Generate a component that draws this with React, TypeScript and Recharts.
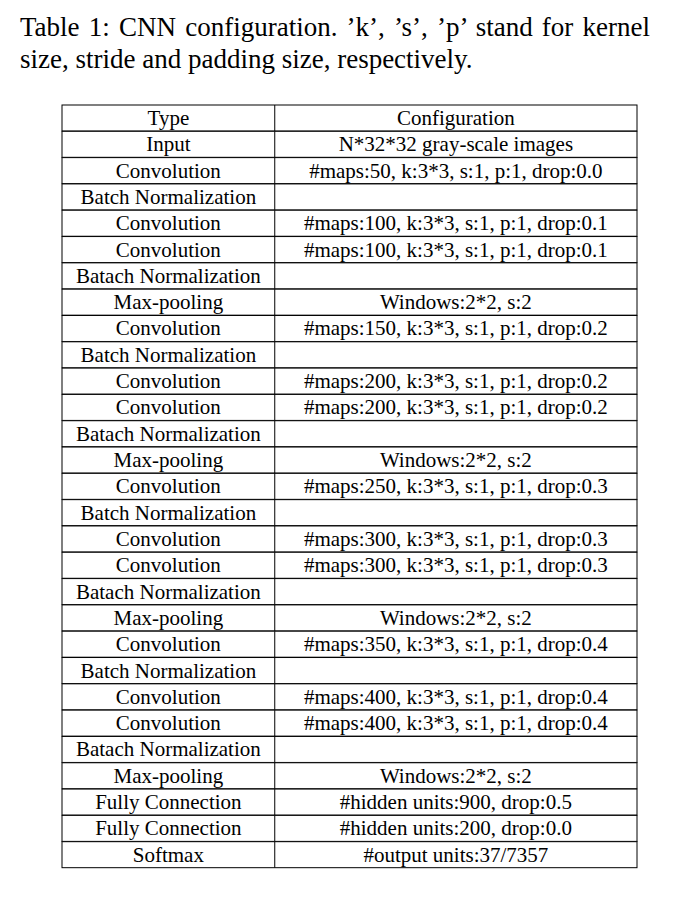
import { BarChart, Bar, XAxis, YAxis } from 'recharts';

const CAPTION_LINES = [
  "Table 1: CNN configuration. \u2019k\u2019, \u2019s\u2019, \u2019p\u2019 stand for kernel",
  'size, stride and padding size, respectively.',
];

const LAYER_TYPES = [
  'Type', 'Input', 'Convolution', 'Batch Normalization', 'Convolution', 'Convolution',
  'Batach Normalization', 'Max-pooling', 'Convolution', 'Batch Normalization', 'Convolution',
  'Convolution', 'Batach Normalization', 'Max-pooling', 'Convolution', 'Batch Normalization',
  'Convolution', 'Convolution', 'Batach Normalization', 'Max-pooling', 'Convolution',
  'Batch Normalization', 'Convolution', 'Convolution', 'Batach Normalization', 'Max-pooling',
  'Fully Connection', 'Fully Connection', 'Softmax',
];

const CONFIGS = [
  'Configuration', 'N*32*32 gray-scale images',
  '#maps:50, k:3*3, s:1, p:1, drop:0.0', '',
  '#maps:100, k:3*3, s:1, p:1, drop:0.1', '#maps:100, k:3*3, s:1, p:1, drop:0.1', '',
  'Windows:2*2, s:2',
  '#maps:150, k:3*3, s:1, p:1, drop:0.2', '',
  '#maps:200, k:3*3, s:1, p:1, drop:0.2', '#maps:200, k:3*3, s:1, p:1, drop:0.2', '',
  'Windows:2*2, s:2',
  '#maps:250, k:3*3, s:1, p:1, drop:0.3', '',
  '#maps:300, k:3*3, s:1, p:1, drop:0.3', '#maps:300, k:3*3, s:1, p:1, drop:0.3', '',
  'Windows:2*2, s:2',
  '#maps:350, k:3*3, s:1, p:1, drop:0.4', '',
  '#maps:400, k:3*3, s:1, p:1, drop:0.4', '#maps:400, k:3*3, s:1, p:1, drop:0.4', '',
  'Windows:2*2, s:2',
  '#hidden units:900, drop:0.5', '#hidden units:200, drop:0.0', '#output units:37/7357',
];

const DIVIDER = 0.37;
const FONT = '"Liberation Serif", "DejaVu Serif", serif';

const rows = LAYER_TYPES.map((type, i) => ({ id: String(i), type, config: CONFIGS[i], full: 1 }));

function RowShape(props: any) {
  const { x, y, width, height, payload } = props;
  const split = x + width * DIVIDER;
  const mid = y + height / 2;
  return (
    <g>
      <rect x={x} y={y} width={width} height={height} fill="#fff" stroke="#000" strokeWidth={1} />
      <line x1={split} y1={y} x2={split} y2={y + height} stroke="#000" strokeWidth={1} />
      <text x={(x + split) / 2} y={mid} textAnchor="middle" dominantBaseline="central"
        fontFamily={FONT} fontSize={21} fill="#000">{payload.type}</text>
      <text x={(split + x + width) / 2} y={mid} textAnchor="middle" dominantBaseline="central"
        fontFamily={FONT} fontSize={21} fill="#000">{payload.config}</text>
    </g>
  );
}

export default function App() {
  return (
    <div style={{ position: 'relative', width: 680, height: 912, margin: -8, background: '#fff' }}>
      <div style={{ position: 'absolute', left: 20, top: 11, width: 630, fontFamily: FONT, fontSize: 27, lineHeight: '32px', color: '#000' }}>
        <div style={{ textAlign: 'justify', textAlignLast: 'justify' }}>{CAPTION_LINES[0]}</div>
        <div>{CAPTION_LINES[1]}</div>
      </div>
      <BarChart width={680} height={912} data={rows} layout="vertical" barCategoryGap={0}
        margin={{ top: 105, right: 43, bottom: 44, left: 62 }}>
        <XAxis type="number" domain={[0, 1]} hide />
        <YAxis type="category" dataKey="id" hide width={0} />
        <Bar dataKey="full" shape={RowShape} isAnimationActive={false} />
      </BarChart>
    </div>
  );
}
